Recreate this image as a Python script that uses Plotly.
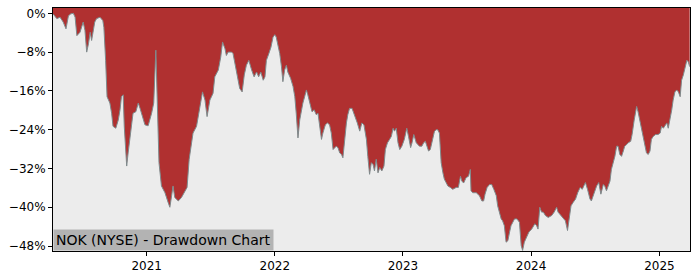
import plotly.graph_objects as go

dates = [
    "2020-04-09", "2020-04-20", "2020-04-29", "2020-05-08", "2020-05-16", "2020-05-23", "2020-05-30",
    "2020-06-06", "2020-06-11", "2020-06-16", "2020-06-25", "2020-07-04", "2020-07-09", "2020-07-14",
    "2020-07-19", "2020-07-24", "2020-07-28", "2020-08-02", "2020-08-06", "2020-08-11", "2020-08-21",
    "2020-08-29", "2020-09-01", "2020-09-06", "2020-09-10", "2020-09-18", "2020-09-23", "2020-09-27",
    "2020-10-05", "2020-10-12", "2020-10-17", "2020-10-21", "2020-10-26", "2020-10-29", "2020-11-05",
    "2020-11-09", "2020-11-14", "2020-11-19", "2020-11-23", "2020-12-01", "2020-12-08", "2020-12-13",
    "2020-12-17", "2020-12-22", "2020-12-27", "2021-01-05", "2021-01-10", "2021-01-15", "2021-01-21",
    "2021-01-27", "2021-01-31", "2021-02-05", "2021-02-12", "2021-02-22", "2021-03-03", "2021-03-08",
    "2021-03-13", "2021-03-17", "2021-03-22", "2021-04-01", "2021-04-10", "2021-04-20", "2021-04-26",
    "2021-05-02", "2021-05-09", "2021-05-13", "2021-05-23", "2021-06-01", "2021-06-09", "2021-06-16",
    "2021-06-22", "2021-06-30", "2021-07-09", "2021-07-14", "2021-07-24", "2021-07-31", "2021-08-05",
    "2021-08-12", "2021-08-16", "2021-08-21", "2021-08-31", "2021-09-04", "2021-09-11", "2021-09-19",
    "2021-09-23", "2021-09-30", "2021-10-06", "2021-10-12", "2021-10-19", "2021-10-27", "2021-11-03",
    "2021-11-10", "2021-11-16", "2021-11-22", "2021-11-29", "2021-12-04", "2021-12-08", "2021-12-15",
    "2021-12-21", "2021-12-27", "2022-01-01", "2022-01-05", "2022-01-10", "2022-01-15", "2022-01-20",
    "2022-01-24", "2022-01-29", "2022-02-03", "2022-02-07", "2022-02-15", "2022-02-22", "2022-02-27",
    "2022-03-03", "2022-03-08", "2022-03-13", "2022-03-18", "2022-03-22", "2022-03-27", "2022-04-01",
    "2022-04-05", "2022-04-13", "2022-04-17", "2022-04-23", "2022-04-29", "2022-05-04", "2022-05-09",
    "2022-05-14", "2022-05-18", "2022-05-25", "2022-05-31", "2022-06-06", "2022-06-11", "2022-06-16",
    "2022-06-25", "2022-06-30", "2022-07-05", "2022-07-10", "2022-07-14", "2022-07-19", "2022-07-24",
    "2022-07-28", "2022-08-02", "2022-08-09", "2022-08-16", "2022-08-24", "2022-08-31", "2022-09-06",
    "2022-09-12", "2022-09-19", "2022-09-23", "2022-09-28", "2022-10-03", "2022-10-08", "2022-10-12",
    "2022-10-17", "2022-10-22", "2022-10-27", "2022-11-02", "2022-11-08", "2022-11-12", "2022-11-18",
    "2022-11-24", "2022-11-29", "2022-12-04", "2022-12-08", "2022-12-13", "2022-12-18", "2022-12-23",
    "2022-12-29", "2023-01-05", "2023-01-12", "2023-01-17", "2023-01-23", "2023-01-27", "2023-02-01",
    "2023-02-08", "2023-02-12", "2023-02-17", "2023-02-24", "2023-03-01", "2023-03-06", "2023-03-11",
    "2023-03-15", "2023-03-20", "2023-03-27", "2023-04-01", "2023-04-06", "2023-04-10", "2023-04-15",
    "2023-04-20", "2023-04-25", "2023-04-29", "2023-05-04", "2023-05-09", "2023-05-16", "2023-05-23",
    "2023-06-02", "2023-06-08", "2023-06-14", "2023-06-18", "2023-06-23", "2023-06-30", "2023-07-07",
    "2023-07-12", "2023-07-14", "2023-07-19", "2023-07-29", "2023-08-07", "2023-08-14", "2023-08-19",
    "2023-08-23", "2023-08-29", "2023-09-05", "2023-09-11", "2023-09-17", "2023-09-24", "2023-09-28",
    "2023-10-03", "2023-10-08", "2023-10-12", "2023-10-17", "2023-10-22", "2023-10-27", "2023-11-01",
    "2023-11-05", "2023-11-10", "2023-11-15", "2023-11-22", "2023-11-29", "2023-12-04", "2023-12-08",
    "2023-12-13", "2023-12-21", "2023-12-26", "2024-01-03", "2024-01-12", "2024-01-17", "2024-01-21",
    "2024-01-26", "2024-01-31", "2024-02-05", "2024-02-11", "2024-02-19", "2024-02-29", "2024-03-07",
    "2024-03-14", "2024-03-18", "2024-03-26", "2024-04-02", "2024-04-08", "2024-04-14", "2024-04-18",
    "2024-04-24", "2024-04-30", "2024-05-07", "2024-05-13", "2024-05-20", "2024-05-26", "2024-06-01",
    "2024-06-04", "2024-06-10", "2024-06-17", "2024-06-21", "2024-06-29", "2024-07-06", "2024-07-12",
    "2024-07-18", "2024-07-25", "2024-07-29", "2024-08-03", "2024-08-08", "2024-08-13", "2024-08-17",
    "2024-08-22", "2024-08-27", "2024-09-01", "2024-09-05", "2024-09-10", "2024-09-15", "2024-09-20",
    "2024-09-24", "2024-09-29", "2024-10-04", "2024-10-11", "2024-10-15", "2024-10-21", "2024-10-28",
    "2024-11-01", "2024-11-06", "2024-11-11", "2024-11-15", "2024-11-20", "2024-11-25", "2024-11-30",
    "2024-12-05", "2024-12-09", "2024-12-14", "2024-12-21", "2024-12-28", "2025-01-03", "2025-01-07",
    "2025-01-12", "2025-01-17", "2025-01-22", "2025-01-26", "2025-01-31", "2025-02-05", "2025-02-09",
    "2025-02-14", "2025-02-19", "2025-02-24", "2025-03-01", "2025-03-05", "2025-03-10", "2025-03-15",
    "2025-03-20", "2025-03-24", "2025-03-28",
]

drawdown_pct = [
    -0.1, -1.1, -0.8, -1.8, -3.2, -0.5, -0.1,
    0.0, -0.8, -4.6, -3.9, -1.8, -3.5, -8.0,
    -6.3, -3.9, -5.6, -3.2, -1.8, -1.1, -0.8,
    -1.5, -2.9, -9.7, -17.2, -18.5, -20.6, -23.3,
    -23.7, -22.0, -19.9, -17.2, -16.8, -23.3, -31.5,
    -28.8, -26.0, -23.3, -20.6, -20.3, -18.5, -19.6,
    -20.6, -22.0, -23.0, -23.2, -22.0, -20.6, -18.5,
    -7.6, -17.9, -30.8, -35.6, -37.0, -39.0, -40.0,
    -37.6, -35.6, -38.0, -38.7, -38.0, -36.6, -35.9,
    -30.1, -26.0, -24.7, -23.3, -19.2, -16.2, -17.9,
    -21.3, -17.9, -16.5, -13.1, -11.7, -9.0, -5.9,
    -7.3, -8.7, -8.0, -8.0, -8.3, -11.0, -14.4,
    -15.5, -16.2, -12.7, -10.7, -9.7, -11.7, -13.1,
    -12.1, -13.1, -12.1, -13.8, -13.1, -9.7, -8.3,
    -7.0, -4.9, -4.4, -4.9, -6.6, -8.3, -11.0,
    -14.1, -11.7, -10.7, -12.1, -13.4, -15.1, -17.2,
    -20.6, -25.7, -22.0, -19.9, -18.5, -17.2, -15.8,
    -16.8, -19.2, -20.3, -19.9, -20.9, -20.6, -24.0,
    -26.0, -24.7, -23.0, -22.6, -23.0, -24.7, -28.1,
    -27.4, -27.7, -28.8, -29.1, -29.8, -26.0, -22.6,
    -20.9, -19.6, -19.6, -20.9, -22.6, -24.3, -22.6,
    -23.0, -26.0, -29.5, -33.2, -30.8, -31.2, -32.5,
    -30.1, -32.9, -31.8, -32.5, -31.5, -28.1, -26.7,
    -26.0, -25.4, -23.7, -24.3, -23.7, -26.7, -28.1,
    -27.4, -26.0, -23.7, -25.4, -27.7, -26.7, -25.0,
    -26.7, -27.1, -27.4, -27.4, -26.7, -26.4, -27.4,
    -28.4, -28.1, -26.0, -24.3, -24.0, -24.0, -24.7,
    -30.8, -32.9, -34.2, -34.9, -35.6, -35.9, -36.3,
    -35.9, -35.9, -33.6, -34.6, -35.0, -33.9, -33.6,
    -32.2, -36.6, -37.0, -37.0, -37.6, -38.7, -38.7,
    -37.3, -35.9, -35.3, -35.3, -36.3, -37.6, -39.7,
    -41.0, -42.4, -42.8, -43.8, -47.2, -46.9, -45.1,
    -43.8, -43.1, -42.4, -42.4, -43.1, -47.9, -48.9,
    -47.2, -45.8, -45.1, -44.5, -43.4, -43.8, -44.5,
    -40.0, -41.0, -41.0, -41.7, -42.1, -41.7, -41.0,
    -40.0, -41.0, -41.7, -42.1, -42.8, -44.8, -42.4,
    -39.7, -39.0, -38.3, -37.0, -35.9, -36.3, -35.3,
    -34.9, -36.3, -38.3, -38.7, -37.0, -35.6, -34.9,
    -37.3, -35.3, -35.6, -36.6, -35.6, -34.6, -32.2,
    -30.8, -29.5, -27.4, -27.4, -29.1, -29.5, -28.4,
    -27.4, -27.1, -26.7, -26.4, -25.0, -22.0, -19.2,
    -20.3, -22.0, -23.3, -24.7, -26.7, -28.8, -29.1,
    -28.4, -26.0, -25.4, -25.0, -25.0, -24.7, -23.3,
    -23.7, -23.0, -22.6, -23.7, -22.0, -19.9, -17.9,
    -16.2, -15.8, -16.2, -17.2, -13.8, -12.7, -11.0,
    -9.7, -10.0, -11.0,
]

y_tick_values = [0, -8, -16, -24, -32, -40, -48]
y_tick_labels = ["0%", "\u22128%", "\u221216%", "\u221224%", "\u221232%", "\u221240%", "\u221248%"]
x_tick_values = ["2021-01-01", "2022-01-01", "2023-01-01", "2024-01-01", "2025-01-01"]
x_tick_labels = ["2021", "2022", "2023", "2024", "2025"]
title_text = "NOK (NYSE) - Drawdown Chart"

Y_MIN, Y_MAX = -49.02, 1.1
X_RANGE = ["2020-04-09", "2025-03-29"]

RED = "#b03030"
BG = "#ececec"

fig = go.Figure()
# upper boundary (top of the axes) so the red area spans from the top down to the curve
fig.add_trace(go.Scatter(
    x=dates, y=[Y_MAX] * len(dates), mode="lines",
    line=dict(width=0, color=RED), hoverinfo="skip", showlegend=False,
))
fig.add_trace(go.Scatter(
    x=dates, y=drawdown_pct, mode="lines",
    line=dict(width=1, color="#7f8a8c"),
    fill="tonexty", fillcolor=RED, showlegend=False,
))

axis_common = dict(
    showline=True, linecolor="black", linewidth=1, mirror=True,
    ticks="outside", ticklen=4, tickwidth=1, tickcolor="black",
    showgrid=False, zeroline=False,
    tickfont=dict(family="DejaVu Sans", size=12, color="black"),
)

fig.update_xaxes(
    type="date", range=X_RANGE,
    tickvals=x_tick_values, ticktext=x_tick_labels,
    **axis_common,
)
fig.update_yaxes(
    range=[Y_MIN, Y_MAX],
    tickvals=y_tick_values, ticktext=y_tick_labels,
    **axis_common,
)

fig.add_annotation(
    xref="paper", yref="paper", x=0, y=0,
    xanchor="left", yanchor="bottom",
    text=title_text, showarrow=False,
    font=dict(family="DejaVu Sans", size=14, color="black"),
    bgcolor="#b3b3b3", borderpad=2,
)

fig.update_layout(
    width=700, height=280,
    margin=dict(l=53, r=10, t=7, b=28),
    plot_bgcolor=BG, paper_bgcolor="white",
)

fig.write_html("out.html")
